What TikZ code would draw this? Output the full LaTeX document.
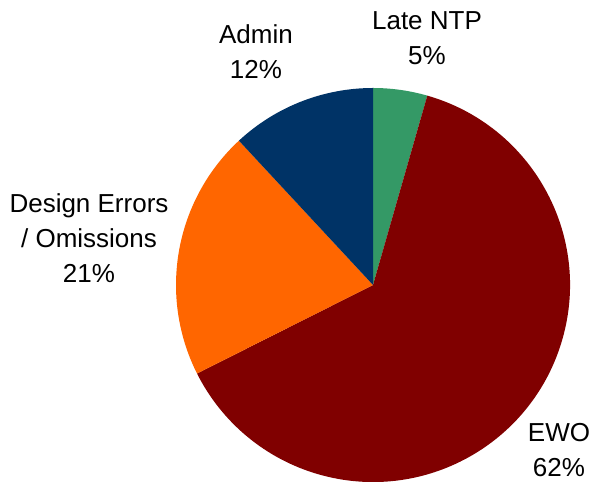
\documentclass[tikz,border=0pt]{standalone}
\usepackage{fontspec}
\setmainfont{Liberation Sans}
\usetikzlibrary{positioning}

\definecolor{ntpgreen}{RGB}{52,153,102}
\definecolor{ewored}{RGB}{128,0,0}
\definecolor{designorange}{RGB}{255,102,0}
\definecolor{adminblue}{RGB}{0,51,102}

\begin{document}
\begin{tikzpicture}[
    x=1pt, y=1pt,
    slice/.style={draw=none},
    lbl/.style={align=center, font=\fontsize{26}{35}\selectfont, inner sep=0pt}
]
\useasboundingbox (0,0) rectangle (593,481);

\coordinate (c) at (373,196);
\def\rad{197}

% slices, clockwise from the top
\fill [slice, ntpgreen] (c) -- ++(90:\rad) arc (90:74:\rad) -- cycle;
\fill [slice, ewored] (c) -- ++(74:\rad) arc (74:-153.3:\rad) -- cycle;
\fill [slice, designorange] (c) -- ++(-153.3:\rad) arc (-153.3:-227.1:\rad) -- cycle;
\fill [slice, adminblue] (c) -- ++(132.9:\rad) arc (132.9:90:\rad) -- cycle;

% labels
\node [lbl] (ntp) at (427,443) {Late NTP\\5\%};
\node [lbl] (admin) at (256,429) {Admin\\12\%};
\node [lbl] (design) at (89,243) {Design Errors\\/ Omissions\\21\%};
\node [lbl] (ewo) at (559,31) {EWO\\62\%};

\end{tikzpicture}
\end{document}
